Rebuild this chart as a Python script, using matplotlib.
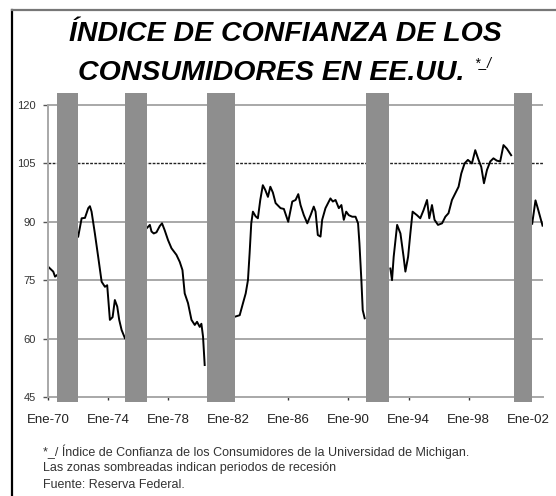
import numpy as np
import matplotlib
matplotlib.use("Agg")
import matplotlib.pyplot as plt
from matplotlib.lines import Line2D

plt.rcParams['font.family'] = ['Liberation Sans', 'DejaVu Sans']

# consumer confidence index (year as decimal)
seg1_years = [1970.0, 1970.35, 1970.47, 1970.6]
seg1_vals = [78.5, 77.2, 75.9, 76.3]

seg2_years = [1972.01, 1972.24, 1972.46, 1972.68, 1972.79, 1972.90, 1973.12, 1973.34,
              1973.57, 1973.79, 1973.94, 1974.12, 1974.30, 1974.45, 1974.61, 1974.74,
              1974.90, 1975.12]
seg2_vals = [86.2, 90.9, 91.0, 93.5, 94.0, 92.6, 87.0, 81.0,
             74.6, 73.3, 73.7, 64.8, 65.5, 69.9, 68.2, 64.8,
             62.2, 60.1]

seg3_years = [1976.56, 1976.78, 1976.89, 1977.04, 1977.22, 1977.44, 1977.59, 1977.77,
              1977.99, 1978.22, 1978.55, 1978.77, 1978.95, 1979.10, 1979.32, 1979.55,
              1979.77, 1979.92, 1980.10, 1980.21, 1980.32, 1980.43]
seg3_vals = [88.3, 89.2, 87.5, 87.0, 87.3, 88.9, 89.6, 87.8,
             85.3, 83.2, 81.5, 79.7, 77.6, 71.6, 69.1, 64.8,
             63.5, 64.3, 63.0, 63.8, 60.5, 53.2]

seg4_years = [1982.43, 1982.76, 1982.98, 1983.16, 1983.31, 1983.42, 1983.53, 1983.64,
              1983.82, 1983.97, 1984.13, 1984.30, 1984.46, 1984.64, 1984.80, 1984.97,
              1985.15, 1985.48, 1985.70, 1985.99, 1986.26, 1986.48, 1986.66, 1986.81,
              1987.03, 1987.26, 1987.48, 1987.69, 1987.81, 1987.96, 1988.14, 1988.25,
              1988.47, 1988.80, 1988.96, 1989.14, 1989.36, 1989.53, 1989.69, 1989.85,
              1990.02, 1990.25, 1990.47, 1990.64, 1990.73, 1990.86, 1990.95, 1991.08]
seg4_vals = [65.6, 66.0, 69.1, 71.6, 75.0, 81.9, 89.6, 92.6,
             91.4, 90.9, 95.6, 99.4, 98.2, 96.4, 99.0, 97.5,
             94.8, 93.5, 93.3, 90.0, 95.2, 95.6, 97.1, 94.3,
             91.7, 89.6, 91.7, 93.9, 92.6, 86.6, 86.2, 90.5,
             93.5, 96.0, 95.2, 95.6, 93.5, 94.3, 90.5, 92.6,
             91.7, 91.3, 91.3, 89.6, 84.5, 75.0, 67.3, 65.2]

seg5_years = [1992.79, 1992.90, 1993.01, 1993.24, 1993.46, 1993.67, 1993.79, 1993.97,
              1994.12, 1994.27, 1994.56, 1994.78, 1995.00, 1995.23, 1995.38, 1995.56,
              1995.73, 1995.96, 1996.23, 1996.45, 1996.66, 1996.89, 1997.11, 1997.33,
              1997.51, 1997.73, 1997.95, 1998.22, 1998.44, 1998.66, 1998.84, 1999.02,
              1999.22, 1999.44, 1999.65, 1999.88, 2000.10, 2000.32, 2000.54, 2000.83]
seg5_vals = [78.0, 75.0, 81.0, 89.2, 87.0, 81.0, 77.2, 81.0,
             87.0, 92.6, 91.7, 90.9, 93.0, 95.6, 90.9, 94.3,
             90.5, 89.2, 89.6, 91.3, 92.2, 95.6, 97.3, 99.0,
             102.4, 105.0, 105.9, 105.0, 108.4, 105.9, 104.1, 99.9,
             103.3, 105.5, 106.3, 105.7, 105.5, 109.7, 108.8, 107.1]

seg6_years = [2002.23, 2002.45, 2002.6, 2002.92]
seg6_vals = [89.5, 95.5, 93.5, 89.0]

segments = [(seg1_years, seg1_vals), (seg2_years, seg2_vals), (seg3_years, seg3_vals),
            (seg4_years, seg4_vals), (seg5_years, seg5_vals), (seg6_years, seg6_vals)]

# recession periods (shaded)
recessions = [(1970.6, 1972.01), (1975.12, 1976.56), (1980.57, 1982.43),
              (1991.18, 1992.68), (2001.05, 2002.21)]

tick_years = [1970, 1974, 1978, 1982, 1986, 1990, 1994, 1998, 2002]
tick_labels = ['Ene-70', 'Ene-74', 'Ene-78', 'Ene-82', 'Ene-86',
               'Ene-90', 'Ene-94', 'Ene-98', 'Ene-02']
y_ticks = [45, 60, 75, 90, 105, 120]

W, H = 556, 496
fig = plt.figure(figsize=(W / 100, H / 100), dpi=100)
ax = fig.add_axes([48 / W, 1 - 401.7 / H, 495 / W, 309 / H])
ax.set_xlim(1970, 2002.95)
ax.set_ylim(43.78, 123.16)

for yv in [60, 75, 90, 120]:
    ax.axhline(yv, color='#a8a8a8', lw=1.4, zorder=1)
ax.axhline(105, color='#222222', lw=1.0, ls=(0, (2, 1)), zorder=1)

for yrs, vals in segments:
    ax.plot(yrs, vals, color='black', lw=1.4, zorder=2)

for a, b in recessions:
    ax.axvspan(a, b, ymin=0, ymax=1, color='#8e8e8e', lw=0, zorder=3)

for s in ['top', 'right']:
    ax.spines[s].set_visible(False)
ax.spines['left'].set_bounds(45, 120)
ax.spines['left'].set_color('#a8a8a8')
ax.spines['left'].set_linewidth(1.4)
ax.spines['bottom'].set_position(('data', 45))
ax.spines['bottom'].set_color('#a8a8a8')
ax.spines['bottom'].set_linewidth(1.4)

ax.set_yticks(y_ticks)
ax.set_yticklabels([str(v) for v in y_ticks])
ax.set_xticks(tick_years)
ax.set_xticklabels(tick_labels)
ax.tick_params(axis='y', length=3.6, width=1, color='#555555', pad=5,
               labelsize=8, labelcolor='#333333')
ax.tick_params(axis='x', length=2.2, width=1, color='#333333', pad=10,
               labelsize=9.5, labelcolor='#222222')

# titles
fig.text(69 / W, 1 - 34 / H, 'ÍNDICE DE CONFIANZA DE LOS', ha='left', va='center',
         fontsize=20.5, fontweight='bold', fontstyle='italic')
fig.text(78 / W, 1 - 73 / H, 'CONSUMIDORES EN EE.UU.', ha='left', va='center',
         fontsize=20.5, fontweight='bold', fontstyle='italic')
fig.text(474 / W, 1 - 63 / H, '*_/', ha='left', va='center', fontsize=10,
         fontstyle='italic')

# notes
notes = ['*_/ Índice de Confianza de los Consumidores de la Universidad de Michigan.',
         'Las zonas sombreadas indican periodos de recesión',
         'Fuente: Reserva Federal.']
for txt, yp in zip(notes, [452, 468, 485]):
    fig.text(43 / W, 1 - yp / H, txt, ha='left', va='center', fontsize=9,
             color='#333333')

# frame around the figure
fig.add_artist(Line2D([12 / W, 12 / W], [0, 1 - 10 / H], transform=fig.transFigure,
                      color='black', lw=1.6))
fig.add_artist(Line2D([12 / W, 1], [1 - 10 / H, 1 - 10 / H], transform=fig.transFigure,
                      color='#777777', lw=1.6))

fig.savefig('out.png', dpi=100)
